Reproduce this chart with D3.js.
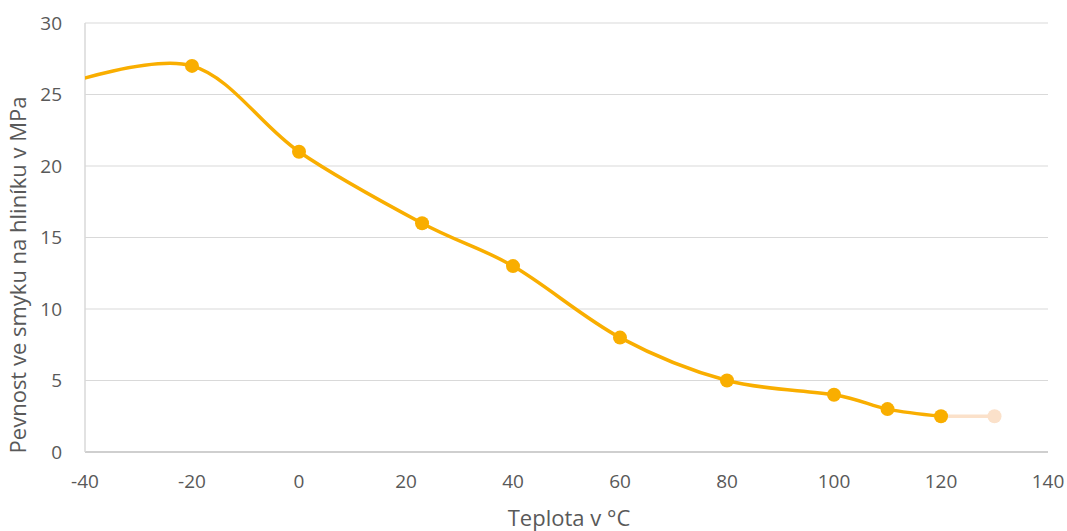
<!DOCTYPE html>
<html>
<head>
<meta charset="utf-8">
<script src="https://cdn.jsdelivr.net/npm/d3@7"></script>
<style>
  body { margin: 0; background: #fff; }
  text { font-family: "Open Sans", "Liberation Sans", sans-serif; fill: #595959; }
</style>
</head>
<body>
<div id="chart"></div>
<script>
// measured series (first point lies just left of the axis and is clipped)
var temps = [-44, -20, 0, 23, 40, 60, 80, 100, 110, 120];
var strength = [25.7, 27, 21, 16, 13, 8, 5, 4, 3, 2.5];
var tailTemps = [120, 130];
var tailStrength = [2.5, 2.5];
var xTicks = [-40, -20, 0, 20, 40, 60, 80, 100, 120, 140];
var yTicks = [0, 5, 10, 15, 20, 25, 30];

var width = 1067, height = 531;
var marginLeft = 85, marginRight = 19, marginTop = 23, marginBottom = 79;

var svg = d3.select("#chart").append("svg")
    .attr("width", width)
    .attr("height", height);

var x = d3.scaleLinear().domain([-40, 140]).range([marginLeft, width - marginRight]);
var y = d3.scaleLinear().domain([0, 30]).range([height - marginBottom, marginTop]);

svg.append("clipPath").attr("id", "plot")
  .append("rect")
    .attr("x", x(-40)).attr("y", 0)
    .attr("width", x(140) - x(-40)).attr("height", height);

// gridlines
svg.append("g")
  .selectAll("line")
  .data(yTicks.filter(function(d){ return d > 0; }))
  .enter().append("line")
    .attr("x1", x(-40)).attr("x2", x(140))
    .attr("y1", function(d){ return y(d); })
    .attr("y2", function(d){ return y(d); })
    .attr("stroke", "#d9d9d9")
    .attr("stroke-width", 1);

// axis lines
svg.append("line")
    .attr("x1", x(-40)).attr("x2", x(140))
    .attr("y1", y(0)).attr("y2", y(0))
    .attr("stroke", "#bfbfbf").attr("stroke-width", 1.5);
svg.append("line")
    .attr("x1", x(-40)).attr("x2", x(-40))
    .attr("y1", y(0)).attr("y2", y(30))
    .attr("stroke", "#d9d9d9").attr("stroke-width", 1.5);

// tick labels
svg.append("g")
  .selectAll("text")
  .data(xTicks)
  .enter().append("text")
    .attr("x", function(d){ return x(d); })
    .attr("y", y(0) + 36)
    .attr("text-anchor", "middle")
    .attr("font-size", 19)
    .text(function(d){ return d; });

svg.append("g")
  .selectAll("text")
  .data(yTicks)
  .enter().append("text")
    .attr("x", x(-40) - 23)
    .attr("y", function(d){ return y(d); })
    .attr("dy", "0.35em")
    .attr("text-anchor", "end")
    .attr("font-size", 19)
    .text(function(d){ return d; });

// axis titles
svg.append("text")
    .attr("x", 569)
    .attr("y", 526)
    .attr("text-anchor", "middle")
    .attr("font-size", 22)
    .text("Teplota v °C");

svg.append("text")
    .attr("transform", "translate(26,275) rotate(-90)")
    .attr("text-anchor", "middle")
    .attr("font-size", 22)
    .text("Pevnost ve smyku na hliníku v MPa");

var pts = temps.map(function(t, i){ return [t, strength[i]]; });
var tail = tailTemps.map(function(t, i){ return [t, tailStrength[i]]; });

var line = d3.line()
    .x(function(d){ return x(d[0]); })
    .y(function(d){ return y(d[1]); })
    .curve(d3.curveCardinal.tension(0));

// faded tail
svg.append("path")
    .attr("d", d3.line().x(function(d){ return x(d[0]); }).y(function(d){ return y(d[1]); })(tail))
    .attr("fill", "none")
    .attr("stroke", "#fbe1ca")
    .attr("stroke-width", 3.5);
svg.append("circle")
    .attr("cx", x(tail[1][0])).attr("cy", y(tail[1][1]))
    .attr("r", 7)
    .attr("fill", "#fbe1ca");

svg.append("path")
    .attr("clip-path", "url(#plot)")
    .attr("d", line(pts))
    .attr("fill", "none")
    .attr("stroke", "#f9ae00")
    .attr("stroke-width", 3.5);

svg.append("g")
    .attr("clip-path", "url(#plot)")
  .selectAll("circle")
  .data(pts)
  .enter().append("circle")
    .attr("cx", function(d){ return x(d[0]); })
    .attr("cy", function(d){ return y(d[1]); })
    .attr("r", 7)
    .attr("fill", "#f9ae00");
</script>
</body>
</html>
